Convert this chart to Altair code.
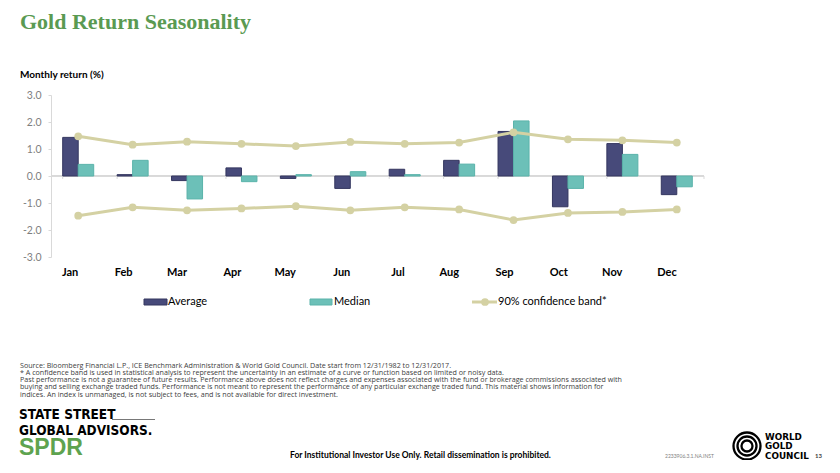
import altair as alt
import pandas as pd

months = ["Jan", "Feb", "Mar", "Apr", "May", "Jun", "Jul", "Aug", "Sep", "Oct", "Nov", "Dec"]
average = [1.43, 0.05, -0.17, 0.30, -0.09, -0.46, 0.25, 0.58, 1.65, -1.14, 1.20, -0.69]
median = [0.43, 0.58, -0.85, -0.21, 0.05, 0.16, 0.05, 0.44, 2.04, -0.46, 0.80, -0.40]
band_upper = [1.47, 1.16, 1.27, 1.19, 1.11, 1.26, 1.19, 1.24, 1.62, 1.36, 1.32, 1.24]
band_lower = [-1.47, -1.16, -1.27, -1.20, -1.12, -1.27, -1.16, -1.24, -1.63, -1.37, -1.33, -1.24]
y_ticks = [-3, -2, -1, 0, 1, 2, 3]

series_names = ["Average", "Median"]
band_name = "90% confidence band*"

footnotes = [
    "Source: Bloomberg Financial L.P., ICE Benchmark Administration & World Gold Council. Date start from 12/31/1982 to 12/31/2017.",
    "* A confidence band is used in statistical analysis to represent the uncertainty in an estimate of a curve or function based on limited or noisy data.",
    "Past performance is not a guarantee of future results. Performance above does not reflect charges and expenses associated with the fund or brokerage commissions associated with",
    "buying and selling exchange traded funds. Performance is not meant to represent the performance of any particular exchange traded fund. This material shows information for",
    "indices. An index is unmanaged, is not subject to fees, and is not available for direct investment.",
]

AVG_C = "#474a7a"
MED_C = "#6cc0b8"
BAND_C = "#d4d1a3"
GREEN = "#5a9a52"
SANS = "Lato, 'Liberation Sans', sans-serif"
NOTE = "'Open Sans', 'Liberation Sans', sans-serif"
COND = "'DejaVu Sans Condensed', 'Liberation Sans Narrow', sans-serif"
WIDE = "'DejaVu Sans', sans-serif"

# plot origin on page
OX, OY = 51, 95
W, H = 653, 162

bars = pd.DataFrame(
    [{"month": m, "series": "Average", "value": v} for m, v in zip(months, average)]
    + [{"month": m, "series": "Median", "value": v} for m, v in zip(months, median)]
)
band = pd.DataFrame(
    [{"month": m, "bound": "upper", "value": v} for m, v in zip(months, band_upper)]
    + [{"month": m, "bound": "lower", "value": v} for m, v in zip(months, band_lower)]
)
mdf = pd.DataFrame({"month": months})
dummy = pd.DataFrame({"a": [0]})

xscale = alt.Scale(paddingInner=0.43, paddingOuter=0.215)
X = alt.X(
    "month:N", sort=months, scale=xscale,
    axis=alt.Axis(title=None, domain=False, ticks=False, labelAngle=0, labelFont=SANS,
                  labelFontSize=11, labelFontWeight="bold", labelColor="#000000", labelPadding=15),
)
yaxis = alt.Axis(title=None, values=y_ticks, format=".1f", grid=False, domainColor="#d9d9d9",
                 tickColor="#d9d9d9", tickSize=3, labelColor="#7f7f7f", labelFont=SANS,
                 labelFontSize=10.5, labelPadding=7, labelOverlap=False, labelSeparation=0,
                 labelExpr="(datum.value < 0 ? '-' : '') + format(abs(datum.value), '.1f')")
yscale = alt.Scale(domain=[-3, 3], nice=False, zero=False)
Y = alt.Y("value:Q", scale=yscale, axis=yaxis)

zero_line = alt.Chart(mdf).mark_rule(color="#d9d9d9", strokeWidth=1).encode(
    y=alt.datum(0, scale=yscale, axis=yaxis), x=alt.value(0), x2=alt.value(W)
)
zero_ticks = alt.Chart(mdf).mark_rule(color="#d9d9d9", strokeWidth=1, y2Offset=3).encode(
    x=alt.X("month:N", sort=months, scale=xscale, bandPosition=0),
    y=alt.datum(0, scale=yscale, axis=yaxis), y2=alt.datum(0),
)
end_tick = alt.Chart(dummy).mark_rule(color="#d9d9d9", strokeWidth=1, y2Offset=3).encode(
    x=alt.value(W), y=alt.datum(0, scale=yscale, axis=yaxis), y2=alt.datum(0)
)

bar_layer = alt.Chart(bars).mark_bar(strokeWidth=1).encode(
    x=X,
    xOffset=alt.XOffset("series:N", sort=series_names, scale=alt.Scale(paddingInner=0, paddingOuter=0)),
    y=Y,
    y2=alt.datum(0),
    color=alt.Color("series:N", scale=alt.Scale(domain=series_names, range=[AVG_C, MED_C]), legend=None),
    stroke=alt.Stroke("series:N", scale=alt.Scale(domain=series_names, range=["#34365f", "#5ab3aa"]), legend=None),
)

band_line = alt.Chart(band).mark_line(color=BAND_C, strokeWidth=3).encode(
    x=alt.X("month:N", sort=months, scale=xscale), y=Y, detail="bound:N"
)
band_pts = alt.Chart(band).mark_point(filled=True, color=BAND_C, size=60, opacity=1, shape="circle").encode(
    x=alt.X("month:N", sort=months, scale=xscale), y=Y
)


def txt(s, px, py, size, weight="normal", color="#000000", font=SANS, align="left", baseline="middle"):
    return alt.Chart(dummy).mark_text(
        align=align, baseline=baseline, fontSize=size, fontWeight=weight, color=color, font=font
    ).encode(x=alt.value(px - OX), y=alt.value(py - OY), text=alt.value(s))


def rect(x1, x2, y1, y2, fill, stroke=None):
    kw = {"fill": fill}
    if stroke:
        kw["stroke"] = stroke
        kw["strokeWidth"] = 1
    return alt.Chart(dummy).mark_rect(**kw).encode(
        x=alt.value(x1 - OX), x2=alt.value(x2 - OX), y=alt.value(y1 - OY), y2=alt.value(y2 - OY)
    )


deco = []
# title & subtitle
deco.append(txt("Gold Return Seasonality", 20, 29, 22, "bold", GREEN, "'Liberation Serif', serif", baseline="alphabetic"))
deco.append(txt("Monthly return (%)", 20, 75, 10, "bold"))
# legend
deco.append(rect(144, 167, 299, 305, AVG_C, "#34365f"))
deco.append(txt(series_names[0], 168, 302, 11))
deco.append(rect(310, 332, 299, 305, MED_C, "#5ab3aa"))
deco.append(txt(series_names[1], 334, 302, 11))
deco.append(alt.Chart(dummy).mark_rule(color=BAND_C, strokeWidth=3).encode(
    x=alt.value(472 - OX), x2=alt.value(497 - OX), y=alt.value(302 - OY)))
deco.append(alt.Chart(dummy).mark_point(filled=True, color=BAND_C, size=60, opacity=1).encode(
    x=alt.value(485 - OX), y=alt.value(302 - OY)))
deco.append(txt(band_name, 498, 302, 11))
# footnotes
for i, line in enumerate(footnotes):
    deco.append(txt(line, 20, 365.5 + i * 7.25, 7.15, color="#404040", font=NOTE))
# State Street logo
deco.append(txt("STATE STREET", 19, 419, 13.5, "bold", "#000000", COND, baseline="alphabetic"))
deco.append(alt.Chart(dummy).mark_rule(color="#555555", strokeWidth=0.8).encode(
    x=alt.value(112 - OX), x2=alt.value(155 - OX), y=alt.value(419.5 - OY)))
deco.append(txt("GLOBAL ADVISORS.", 19, 434.5, 13.5, "bold", "#000000", COND, baseline="alphabetic"))
deco.append(txt("SPDR", 19, 455, 23, "bold", "#5ea34f", "'Liberation Sans', Arial, sans-serif", baseline="alphabetic"))
# bottom center disclaimer
deco.append(txt("For Institutional Investor Use Only. Retail dissemination is prohibited.", 290, 455, 8.5, "bold"))
deco.append(txt("2233906.3.1.NA.INST", 665, 456, 5, color="#7f7f7f"))
# WGC logo
for r in [13.5, 9.5, 5.5]:
    deco.append(alt.Chart(dummy).mark_point(filled=False, color="#000000", strokeWidth=2.3, size=(2 * r) ** 2, opacity=1).encode(
        x=alt.value(747 - OX), y=alt.value(446 - OY)))
deco.append(txt("WORLD", 765, 436.5, 8.8, "bold", font=WIDE))
deco.append(txt("GOLD", 765, 446, 8.8, "bold", font=WIDE))
deco.append(txt("COUNCIL", 765, 455.5, 8.8, "bold", font=WIDE))
deco.append(txt("13", 815, 456, 6, "bold", "#404040"))

chart = alt.layer(zero_line, zero_ticks, end_tick, bar_layer, band_line, band_pts, *deco).properties(
    width=W, height=H,
    autosize=alt.AutoSizeParams(type="none"),
    padding={"left": OX - 8, "top": OY - 8, "right": 840 - 16 - OX + 8 - W, "bottom": 203},
).configure_view(stroke=None).configure_axis(labelOverlap=False).resolve_scale(
    color="independent", stroke="independent")

chart.save("out.html", embed_options={"renderer": "svg", "actions": False})
